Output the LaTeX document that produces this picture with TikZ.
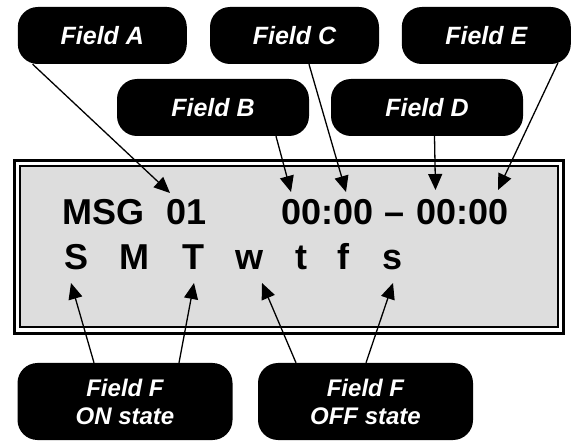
\documentclass[tikz,border=0pt]{standalone}
\usepackage{fontspec}
\setmainfont{Liberation Sans}
\usetikzlibrary{arrows.meta}
\definecolor{lcdgray}{RGB}{221,221,221}
\tikzset{
  tag/.style={fill=black, text=white, rounded corners=20pt, inner sep=0pt, minimum height=57pt, align=center, font=\bfseries\itshape\fontsize{25}{28}\selectfont},
  shorttag/.style={tag, minimum width=169pt}, longtag/.style={tag, minimum width=192pt},
  statetag/.style={tag, minimum width=215pt, minimum height=77pt, font=\bfseries\itshape\fontsize{24}{28}\selectfont},
  lcd/.style={anchor=base west, inner sep=0pt, font=\bfseries\fontsize{36}{40}\selectfont},
  ptr/.style={-{Triangle[length=16pt, width=14pt]}, line width=1.3pt},
}

\begin{document}
\begin{tikzpicture}[x=1pt, y=-1pt]
    \useasboundingbox (0,0) rectangle (574,441);
    \draw[line width=2.8pt, fill=white] (14.7,160.5) rectangle (563.3,333.5);
    \draw[line width=2pt, fill=lcdgray] (20.3,166.5) rectangle (557.5,327.5);
    \node[lcd] (msg) at (62.5,225) {MSG};
    \node[lcd] (num) at (166.5,225) {01};
    \node[lcd] (tstart) at (281.5,225) {00:00};
    \node[lcd] (dash) at (384.5,225) {\textendash};
    \node[lcd] (tend) at (416.5,225) {00:00};
    \node[lcd] (sun) at (64,270) {S};
    \node[lcd] (mon) at (119.5,270) {M};
    \node[lcd] (tue) at (182,270) {T};
    \node[lcd] (wed) at (235.5,270) {w};
    \node[lcd] (thu) at (295.5,270) {t};
    \node[lcd] (fri) at (337.5,270) {f};
    \node[lcd] (sat) at (382,270) {s};
    \node[shorttag] (fieldA) at (102.3,35.5) {Field A};
    \node[shorttag] (fieldC) at (294.5,35.5) {Field C};
    \node[shorttag] (fieldE) at (486.3,35.5) {Field E};
    \node[longtag] (fieldB) at (213,107.5) {Field B};
    \node[longtag] (fieldD) at (427,107.5) {Field D};
    \node[statetag] (fieldOn) at (125,401.5) {Field F\\ON state};
    \node[statetag] (fieldOff) at (365.5,401.5) {Field F\\OFF state};
    \coordinate (tipA) at (170,193);
    \coordinate (tipB) at (291,192);
    \coordinate (tipC) at (346,192);
    \coordinate (tipD) at (435.5,190);
    \coordinate (tipE) at (498,190);
    \coordinate (tipS) at (71,283);
    \coordinate (tipT) at (194,283);
    \coordinate (tipW) at (262,283);
    \coordinate (tipSat) at (393,283);
    \draw[ptr] ([xshift=15pt]fieldA.south west) -- (tipA);
    \draw[ptr] ([xshift=63pt]fieldB.south) -- (tipB);
    \draw[ptr] ([xshift=14.5pt]fieldC.south) -- (tipC);
    \draw[ptr] ([xshift=7.5pt]fieldD.south) -- (tipD);
    \draw[ptr] ([xshift=-13pt, yshift=1.5pt]fieldE.south east) -- (tipE);
    \draw[ptr] ([xshift=-31pt]fieldOn.north) -- (tipS);
    \draw[ptr] ([xshift=54pt]fieldOn.north) -- (tipT);
    \draw[ptr] ([xshift=-69.5pt]fieldOff.north) -- (tipW);
    \draw[ptr] ([xshift=0.5pt]fieldOff.north) -- (tipSat);
  \end{tikzpicture}
\end{document}
